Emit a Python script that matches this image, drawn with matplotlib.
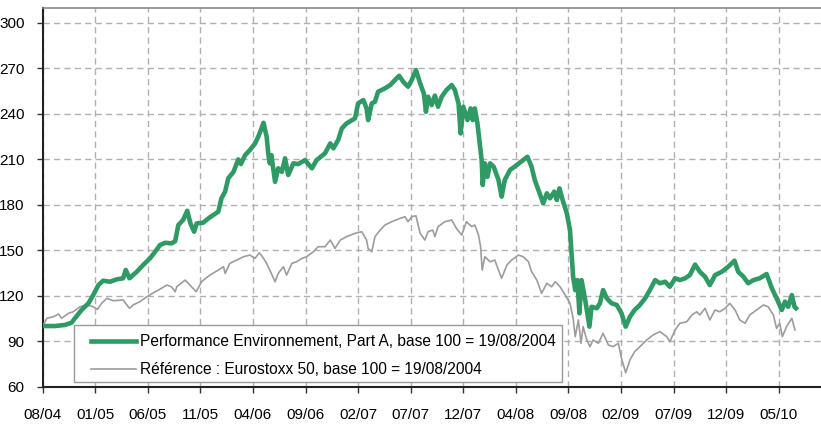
import matplotlib
matplotlib.use("Agg")
import matplotlib.pyplot as plt
from matplotlib.patches import Rectangle
import numpy as np

# x positions in tick units (0 = 08/04, 1 = 01/05, ... 14 = 05/10)
tick_labels = ["08/04", "01/05", "06/05", "11/05", "04/06", "09/06", "02/07", "07/07",
               "12/07", "04/08", "09/08", "02/09", "07/09", "12/09", "05/10"]
y_ticks = [60, 90, 120, 150, 180, 210, 240, 270, 300]

fund_t = [0.00, 0.23, 0.42, 0.55, 0.61, 0.74, 0.87, 0.96, 1.06, 1.15, 1.28, 1.41, 1.53, 1.58, 1.65,
          1.79, 1.91, 2.04, 2.14, 2.23, 2.33, 2.45, 2.52, 2.58, 2.67, 2.75, 2.81, 2.88, 2.93, 3.05,
          3.18, 3.34, 3.40, 3.47, 3.53, 3.63, 3.72, 3.77, 3.85, 3.94, 4.04, 4.10, 4.15, 4.20, 4.26,
          4.29, 4.32, 4.35, 4.42, 4.48, 4.55, 4.61, 4.67, 4.77, 4.86, 4.99, 5.12, 5.21, 5.37, 5.47,
          5.53, 5.62, 5.69, 5.78, 5.94, 6.00, 6.10, 6.16, 6.19, 6.26, 6.32, 6.38, 6.51, 6.61, 6.70,
          6.78, 6.86, 6.95, 7.02, 7.10, 7.18, 7.25, 7.29, 7.33, 7.40, 7.46, 7.52, 7.59, 7.68, 7.78,
          7.84, 7.91, 7.95, 8.00, 8.08, 8.14, 8.18, 8.22, 8.27, 8.32, 8.35, 8.37, 8.41, 8.46, 8.51,
          8.58, 8.67, 8.73, 8.79, 8.89, 9.02, 9.14, 9.22, 9.30, 9.36, 9.43, 9.52, 9.59, 9.65, 9.73,
          9.78, 9.83, 9.89, 9.97, 10.03, 10.06, 10.09, 10.13, 10.17, 10.21, 10.25, 10.32, 10.40, 10.44,
          10.54, 10.60, 10.66, 10.73, 10.82, 10.92, 11.01, 11.09, 11.17, 11.26, 11.36, 11.46, 11.55,
          11.65, 11.74, 11.84, 11.93, 12.03, 12.12, 12.22, 12.31, 12.41, 12.50, 12.60, 12.69, 12.79,
          12.92, 13.04, 13.16, 13.23, 13.33, 13.42, 13.52, 13.64, 13.77, 13.87, 13.96, 14.06, 14.12,
          14.18, 14.25, 14.30, 14.33]
fund_v = [100, 100.0, 100.7, 102.2, 105, 110.6, 115, 120.4, 127, 129.9, 129.2, 130.8, 131.5, 137, 131.5,
          135.8, 140.2, 144.6, 149, 153.4, 154.9, 154.5, 156, 166.6, 169.9, 176, 167.7, 162.2, 167.7, 168.1,
          171.7, 175.4, 184.2, 188.6, 197.4, 201.7, 209.9, 206.8, 212.7, 216, 220.4, 224.8, 229.2, 234, 224.8,
          213.9, 207.3, 212.7, 195.1, 204, 201.7, 210.6, 199.6, 207.3, 206.8, 209.4, 204, 209.4, 213.9, 220.4,
          217.2, 222.6, 230.3, 233.6, 236.9, 246.8, 249, 243.5, 235.8, 246.8, 247.9, 254.5, 256.7, 258.9, 262.2,
          265, 261, 257.8, 262.2, 268.8, 260, 253.4, 241.3, 251.2, 245.7, 252, 244.6, 251.2, 255.6, 258.9,
          255.6, 246.8, 227, 244.6, 235.8, 243.5, 235.8, 243.5, 233.6, 218.2, 209.4, 193, 207.3, 198.4, 207.3,
          205, 196.3, 185.3, 196.3, 202.9, 206.2, 209.4, 211.6, 205, 196.3, 189.7, 180.9, 187.5, 184.2, 188.6,
          183.1, 190.8, 183.1, 174.3, 163.3, 147.9, 132.5, 123.7, 130.3, 108.4, 130.3, 117.2, 99.6, 112.7,
          111.7, 115, 123.7, 118.3, 115, 113.9, 108.4, 99.6, 106.1, 110.6, 113.9, 118.3, 123.7,
          130.3, 128.2, 129.2, 125.9, 131.5, 130.3, 131.5, 133.6, 140.5, 135.8, 132.5, 127, 133.6,
          135.8, 139.1, 143.1, 135.8, 132.5, 128.2, 130.3, 131.5, 134.3, 124.9, 118.3, 110.6, 116.1,
          112.7, 120.4, 112.7, 111.7]

ref_t = [0.00, 0.08, 0.20, 0.30, 0.36, 0.49, 0.58, 0.71, 0.84, 0.96, 1.04, 1.12, 1.22, 1.34, 1.53,
         1.65, 1.72, 1.85, 1.98, 2.14, 2.26, 2.36, 2.45, 2.52, 2.55, 2.71, 2.80, 2.92, 3.02, 3.18,
         3.34, 3.44, 3.47, 3.56, 3.69, 3.82, 3.94, 4.04, 4.12, 4.18, 4.26, 4.32, 4.42, 4.48, 4.58,
         4.64, 4.74, 4.83, 4.93, 5.02, 5.15, 5.24, 5.37, 5.47, 5.56, 5.66, 5.78, 5.94, 6.07, 6.16,
         6.19, 6.26, 6.32, 6.42, 6.51, 6.64, 6.80, 6.89, 6.95, 7.02, 7.10, 7.18, 7.27, 7.33, 7.42,
         7.46, 7.52, 7.65, 7.78, 7.87, 7.97, 8.06, 8.16, 8.22, 8.29, 8.33, 8.36, 8.41, 8.51, 8.60,
         8.67, 8.73, 8.83, 8.92, 9.05, 9.14, 9.24, 9.30, 9.40, 9.49, 9.59, 9.68, 9.75, 9.84, 9.94,
         10.03, 10.09, 10.13, 10.19, 10.24, 10.28, 10.35, 10.41, 10.47, 10.57, 10.66, 10.76, 10.85,
         10.95, 11.01, 11.09, 11.17, 11.26, 11.36, 11.49, 11.61, 11.74, 11.87, 11.93, 12.03, 12.12,
         12.25, 12.35, 12.44, 12.50, 12.60, 12.69, 12.79, 12.88, 12.98, 13.07, 13.17, 13.26, 13.36,
         13.45, 13.58, 13.71, 13.80, 13.90, 13.96, 14.02, 14.07, 14.15, 14.25, 14.31]
ref_v = [100, 105.1, 106.1, 107.9, 105.1, 108.4, 109.4, 112.7, 113.9, 112.7, 111, 115, 118.3, 116.7, 117.2,
         111.7, 113.9, 116.1, 119.3, 122.6, 124.9, 127, 125.9, 122.6, 125.9, 130.3, 127, 122.6, 129.2, 133.6,
         136.9, 139.1, 134.7, 141.3, 143.5, 145.7, 146.8, 144.6, 148.3, 145.7, 141.3, 136.9, 129.2, 134.7, 139.1,
         133.6, 141.3, 142.4, 144.6, 145.7, 149, 152.3, 152.3, 156.7, 151.2, 156.7, 158.9, 161.1, 162.2, 156.7,
         151.2, 149, 158.9, 163.3, 166.6, 168.8, 171, 172.1, 168.8, 172.1, 172.7, 161.1, 156.7, 162.2, 163.3,
         158.9, 165.5, 168.8, 169.9, 164.4, 160, 168.8, 165.5, 166.6, 160, 152.3, 136.9, 145.7, 142.4, 143.5,
         136.9, 131.5, 140.2, 143.5, 146.8, 145.7, 142.4, 135.8, 130.3, 121.6, 128.2, 125.9, 129.2, 126, 120.4,
         115, 105.1, 93, 104, 88.6, 99.6, 90.8, 86.4, 90.8, 88.6, 95.2, 87.5, 86.4,
         88.6, 78.7, 69.2, 77.6, 83.1, 86.4, 90.8, 94.1, 96.3, 93, 89.7, 97.4, 101.8,
         102.8, 107.3, 109.4, 107.3, 111.7, 104, 110.6, 109.4, 111.7, 115, 110.6, 104, 101.8,
         107.3, 110.6, 113.9, 112.7, 107.3, 98.5, 101.8, 93, 99.6, 105.1, 97.4]

fund_label = "Performance Environnement, Part A, base 100 = 19/08/2004"
ref_label = "Référence : Eurostoxx 50, base 100 = 19/08/2004"

plt.rcParams['font.family'] = ['Liberation Sans', 'DejaVu Sans']

W, H = 821, 425
fig = plt.figure(figsize=(W / 100, H / 100), dpi=100)
ax = fig.add_axes([42.7 / W, 1 - 386.7 / H, (W - 42.7) / W, (386.7 - 8) / H])

ax.plot(ref_t, ref_v, color="#9c9c9c", lw=1.2, label=ref_label, zorder=3)
ax.plot(fund_t, fund_v, color="#2f9a64", lw=3.3, label=fund_label, zorder=4,
        solid_joinstyle="round")

ax.set_xlim(0, 14.805)
ax.set_ylim(60, 309.7)
ax.set_xticks(range(len(tick_labels)))
ax.set_xticklabels(tick_labels)
ax.set_yticks(y_ticks)
ax.tick_params(axis="both", labelsize=11, length=4, width=1, color="#333333")
ax.tick_params(axis="x", pad=11)
ax.tick_params(axis="y", pad=9)
ax.grid(True, color="#b0b0b0", lw=1.0, linestyle=(0, (4.5, 3)))
ax.set_axisbelow(True)
for s in ["left", "bottom"]:
    ax.spines[s].set_color("#222222")
    ax.spines[s].set_linewidth(1.5)
ax.spines["top"].set_color("#888888")
ax.spines["top"].set_linewidth(1.2)
ax.spines["right"].set_visible(False)

# legend frame
frame = Rectangle((74 / W, 1 - 382 / H), (562 - 74) / W, (382 - 325) / H,
                  transform=fig.transFigure, facecolor="white", edgecolor="#999999",
                  lw=1.0, zorder=5)
fig.add_artist(frame)

handles, labels = ax.get_legend_handles_labels()
leg = fig.legend(handles[::-1], labels[::-1], loc="upper left",
                 bbox_to_anchor=(91 / W, 1 - 334.5 / H), bbox_transform=fig.transFigure,
                 fontsize=11.2, frameon=False, handlelength=2.9, handletextpad=0.25,
                 borderpad=0, labelspacing=0.8, borderaxespad=0)
leg.set_zorder(6)

fig.savefig("out.png", dpi=100)
